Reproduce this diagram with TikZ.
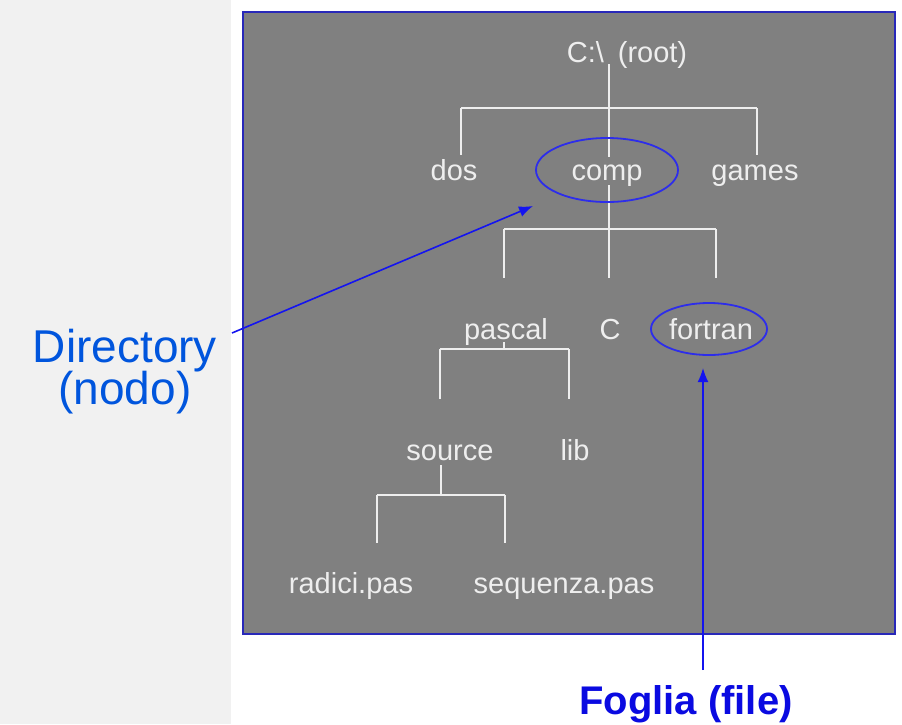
\documentclass[tikz,border=0pt]{standalone}
\usepackage{fontspec}
\setmainfont{Liberation Sans}
\usetikzlibrary{arrows.meta}
\definecolor{leftbg}{RGB}{241,241,241}
\definecolor{boxgray}{RGB}{128,128,128}
\definecolor{boxblue}{RGB}{40,40,185}
\definecolor{ellblue}{RGB}{45,45,235}
\definecolor{arrblue}{RGB}{20,20,240}
\definecolor{labblue}{RGB}{0,85,221}
\definecolor{fogblue}{RGB}{10,10,225}
\definecolor{treewhite}{RGB}{238,238,238}
\begin{document}
\begin{tikzpicture}[x=1pt,y=-1pt,
  item/.style={text=treewhite, font=\fontsize{29}{34}\selectfont, inner sep=0pt, anchor=base},
  tree/.style={draw=treewhite, line width=1.6pt},
  ring/.style={draw=ellblue, line width=1.8pt},
  pointer/.style={draw=arrblue, line width=1.6pt, -{Latex[length=14pt,width=11pt]}},
  side/.style={text=labblue, font=\fontsize{46}{42}\selectfont, inner sep=0pt, anchor=base},
]
\useasboundingbox (0,0) rectangle (902,724);
\fill[leftbg] (0,0) rectangle (231,724);
\fill[white] (231,0) rectangle (902,724);
\draw[boxblue, line width=2pt, fill=boxgray] (243,12) rectangle (895,634);

% tree labels
\node[item] (root) at (627,62) {C:\textbackslash\hspace{14pt}(root)};
\node[item] (dos) at (454,180) {dos};
\node[item] (comp) at (607,180) {comp};
\node[item] (games) at (755,180) {games};
\node[item] (pascal) at (506,339) {pascal};
\node[item] (cdir) at (610,339) {C};
\node[item] (fortran) at (711,339) {fortran};
\node[item] (source) at (450,460) {source};
\node[item] (lib) at (575,460) {lib};
\node[item] (radici) at (351,593) {radici.pas};
\node[item] (sequenza) at (564,593) {sequenza.pas};

% junction coordinates
\coordinate (r0) at (609,64);
\coordinate (r1) at (609,108);
\coordinate (r2) at (609,157);
\coordinate (bl1) at (461,108);
\coordinate (br1) at (757,108);
\coordinate (dl) at (461,155);
\coordinate (gl) at (757,155);
\coordinate (c0) at (609,185);
\coordinate (c1) at (609,229);
\coordinate (bl2) at (504,229);
\coordinate (br2) at (716,229);
\coordinate (pl) at (504,278);
\coordinate (cl) at (609,278);
\coordinate (fl) at (716,278);
\coordinate (p0) at (504,342);
\coordinate (p1) at (504,349);
\coordinate (bl3) at (440,349);
\coordinate (br3) at (569,349);
\coordinate (sl) at (440,399);
\coordinate (ll) at (569,399);
\coordinate (s0) at (441,465);
\coordinate (s1) at (441,495);
\coordinate (bl4) at (377,495);
\coordinate (br4) at (505,495);
\coordinate (ral) at (377,543);
\coordinate (sel) at (505,543);

\draw[tree] (r0) -- (r2);
\draw[tree] (bl1) -- (br1);
\draw[tree] (bl1) -- (dl);
\draw[tree] (br1) -- (gl);
\draw[tree] (c0) -- (cl);
\draw[tree] (bl2) -- (br2);
\draw[tree] (bl2) -- (pl);
\draw[tree] (br2) -- (fl);
\draw[tree] (p0) -- (p1);
\draw[tree] (bl3) -- (br3);
\draw[tree] (bl3) -- (sl);
\draw[tree] (br3) -- (ll);
\draw[tree] (s0) -- (s1);
\draw[tree] (bl4) -- (br4);
\draw[tree] (bl4) -- (ral);
\draw[tree] (br4) -- (sel);

% highlight rings
\draw[ring] (607,170) ellipse [x radius=71pt, y radius=32pt];
\draw[ring] (709,329) ellipse [x radius=58pt, y radius=26pt];

% side labels
\node[side] (dirlab) at (125,362) {Directory};
\node[side] (nodolab) at (125,404) {(nodo)};
\node[text=fogblue, font=\fontsize{40}{44}\selectfont\bfseries, inner sep=0pt, anchor=base] (foglia) at (686,714) {Foglia (file)};

% pointers
\coordinate (dirstart) at (232,333);
\coordinate (comptip) at (533,206);
\coordinate (fogtop) at (703,670);
\coordinate (fortip) at (703,368);
\draw[pointer] (dirstart) -- (comptip);
\draw[pointer] (fogtop) -- (fortip);
\end{tikzpicture}
\end{document}
